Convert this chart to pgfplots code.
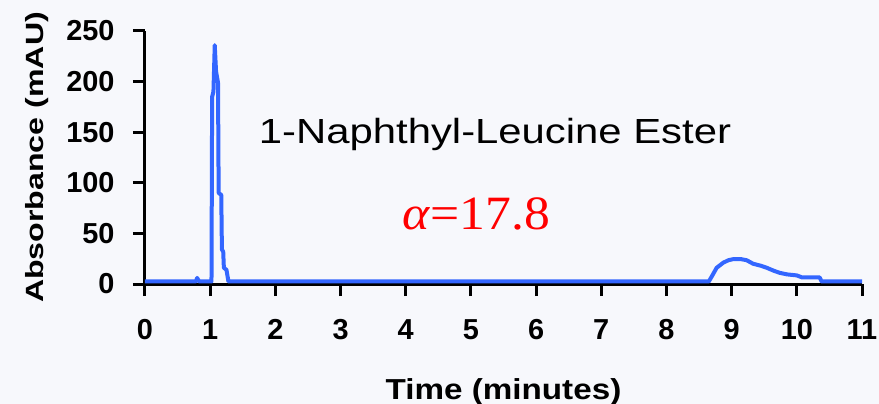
\documentclass[border=0pt]{standalone}
\usepackage{pgfplots}
\pgfplotsset{compat=1.18}
\usepackage{fontspec}
\setmainfont{Liberation Sans}
\newfontfamily\serif{Liberation Serif}
\definecolor{trace}{RGB}{51,102,255}
\definecolor{bg}{RGB}{247,248,252}

\begin{document}
\begin{tikzpicture}
\fill[bg] (-145bp,-120bp) rectangle (734bp,284bp);
\begin{axis}[
    scale only axis,
    width=717bp, height=253bp,
    xmin=0, xmax=11, ymin=0, ymax=250,
    enlargelimits=false,
    clip=false,
    axis lines=left,
    axis line style={-, line width=3bp, black},
    xtick={0,1,...,11},
    ytick={0,50,...,250},
    tick align=outside,
    major tick length=12bp,
    tick style={line width=3bp, black},
    /pgf/number format/assume math mode=true,
    tick label style={font=\bfseries\fontsize{29}{29}\selectfont},
    xticklabel style={yshift=-20bp},
    yticklabel style={xshift=-15bp},
    xlabel={Time (minutes)},
    ylabel={Absorbance (mAU)},
    xlabel style={at={([yshift=-108bp]axis description cs:0.5,0)}, anchor=center,
        font=\bfseries\fontsize{29}{29}\selectfont, xscale=1.15},
    ylabel style={at={([xshift=-108bp]axis description cs:0,0.5)}, anchor=center,
        font=\bfseries\fontsize{25}{25}\selectfont, xscale=1.29},
]
\addplot[trace, line width=4bp, line join=round] coordinates {
    (0,2.5) (0.78,2.5) (0.80,6) (0.83,2.5) (1.02,2.5)
    (1.03,185) (1.05,190) (1.07,236) (1.09,210) (1.12,199)
    (1.13,90) (1.17,88) (1.18,34) (1.20,32) (1.21,16) (1.25,14) (1.28,2.5)
    (8.65,2.5) (8.70,8) (8.77,16) (8.87,21) (8.95,23.5) (9.02,24.5) (9.15,24.5)
    (9.23,23.5) (9.33,20) (9.45,18) (9.54,16) (9.65,13) (9.74,11) (9.85,9.5)
    (10.0,8.5) (10.08,6.5) (10.35,6.5) (10.38,2.5) (11,2.5)
};
\node[anchor=base, font=\fontsize{35}{35}\selectfont, xscale=1.2]
    at (axis cs:5.37,139) {1-Naphthyl-Leucine Ester};
\node[anchor=base, font=\serif\fontsize{48}{48}\selectfont, text=red, xscale=1.08]
    at (axis cs:5.08,53.4) {\textit{α}=17.8};
\end{axis}
\pgfresetboundingbox
\path[use as bounding box] (-145bp,-120bp) rectangle (734bp,284bp);
\end{tikzpicture}
\end{document}
